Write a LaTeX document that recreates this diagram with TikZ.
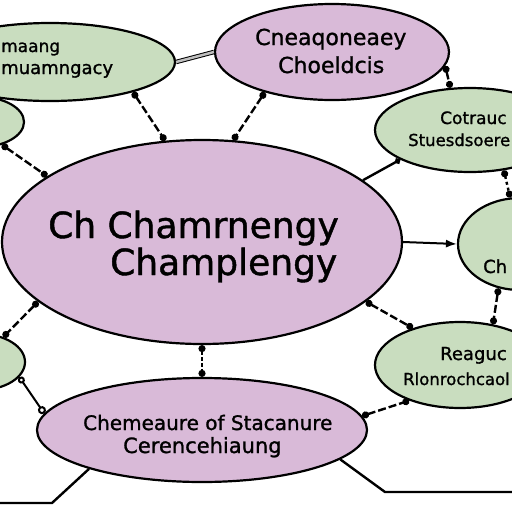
\documentclass[tikz,border=0pt]{standalone}
\usepackage{fontspec}
\setmainfont{DejaVu Sans}[FakeBold=1.2]
\usetikzlibrary{shapes.geometric,arrows.meta}
\definecolor{lav}{RGB}{217,186,216}
\definecolor{sage}{RGB}{201,221,191}
\begin{document}
\begin{tikzpicture}[x=1pt,y=-1pt,
  bubble/.style={ellipse,draw=black,line width=2.2pt,inner sep=0pt},
  lavbub/.style={bubble,fill=lav},
  sagebub/.style={bubble,fill=sage},
  lbl/.style={inner sep=0pt,text=black},
  link/.style={line width=2.4pt,black},
  chain/.style={link,dash pattern=on 8pt off 3pt,{Circle[length=7pt]}-{Circle[length=7pt]}},
  ochain/.style={link,line width=2pt,{Circle[open,length=7pt]}-{Circle[open,length=8pt]}},
]
\useasboundingbox (0,0) rectangle (512,512);
\clip (0,0) rectangle (512,512);
\fill[white] (0,0) rectangle (512,512);

% bubbles
\node[sagebub,minimum width=250pt,minimum height=78pt] (TL) at (50,62) {};
\node[sagebub,minimum width=88pt,minimum height=50pt] (LS) at (-20,122) {};
\node[lavbub,minimum width=234pt,minimum height=96pt] (TP) at (332,52) {};
\node[sagebub,minimum width=190pt,minimum height=84pt] (TR) at (470,130) {};
\node[lavbub,minimum width=400pt,minimum height=204pt] (C) at (202,242) {};
\node[sagebub,minimum width=124pt,minimum height=92pt] (RM) at (520,244) {};
\node[sagebub,minimum width=170pt,minimum height=86pt] (RB) at (460,365) {};
\node[lavbub,minimum width=330pt,minimum height=104pt] (BP) at (202,430) {};
\node[sagebub,minimum width=90pt,minimum height=56pt] (LB) at (-20,362) {};

% labels
\node[lbl,anchor=base west,font=\fontsize{17}{17}\selectfont] (tl1) at (1,52) {maang};
\node[lbl,anchor=base west,font=\fontsize{18}{18}\selectfont] (tl2) at (1,74) {muamngacy};
\node[lbl,anchor=base west,font=\fontsize{22}{22}\selectfont] (tp1) at (255,45) {Cneaqoneaey};
\node[lbl,anchor=base west,font=\fontsize{22}{22}\selectfont] (tp2) at (278,73) {Choeldcis};
\node[lbl,anchor=base west,font=\fontsize{17}{17}\selectfont] (tr1) at (440,124) {Cotrauc};
\node[lbl,anchor=base west,font=\fontsize{16.5}{16.5}\selectfont] (tr2) at (408,146) {Stuesdsoere};
\node[lbl,anchor=base west,font=\fontsize{36}{36}\selectfont] (c1) at (48,238) {Ch Chamrnengy};
\node[lbl,anchor=base west,font=\fontsize{36}{36}\selectfont] (c2) at (110,275) {Champlengy};
\node[lbl,anchor=base west,font=\fontsize{18}{18}\selectfont] (rm1) at (483,273) {Ch};
\node[lbl,anchor=base west,font=\fontsize{18}{18}\selectfont] (rb1) at (440,360) {Reaguc};
\node[lbl,anchor=base west,font=\fontsize{16.5}{16.5}\selectfont] (rb2) at (403,385) {Rlonrochcaol};
\node[lbl,anchor=base west,font=\fontsize{20}{20}\selectfont] (bp1) at (83,430) {Chemeaure of Stacanure};
\node[lbl,anchor=base west,font=\fontsize{21}{21}\selectfont] (bp2) at (123,453) {Cerencehiaung};

% free ends
\coordinate (bl) at (52,503);
\coordinate (bl2) at (-5,503);
\coordinate (br) at (385,492);
\coordinate (br2) at (520,492);

% connectors
\draw[line width=1pt,double=black!25,double distance=2.5pt] (TL.0) -- (TP.180);
\draw[chain] (TL.-20) -- (C.110);
\draw[chain] (TP.211) -- (C.73);
\draw[chain] (TP.-7) -- (TR.115);
\draw[link,-{Circle[length=6pt]}] (C.21) -- (TR.203);
\draw[chain,dash pattern=on 3pt off 3pt] (TR.-50) -- (RM.102);
\draw[link,line width=2pt,-{Latex[length=11pt]}] (C.0) -- (RM.180);
\draw[chain] (RM.244) -- (RB.51);
\draw[chain] (C.-20) -- (RB.142);
\draw[chain,dash pattern=on 4pt off 2pt] (C.-90) -- (BP.90);
\draw[chain] (C.200) -- (LB.47);
\draw[chain] (LS.-46) -- (C.157);
\draw[ochain] (LB.-21) -- (BP.174);
\draw[chain] (BP.5) -- (RB.215);
\draw[link] (BP.199) -- (bl) -- (bl2);
\draw[link] (BP.-12) -- (br) -- (br2);
\end{tikzpicture}
\end{document}
